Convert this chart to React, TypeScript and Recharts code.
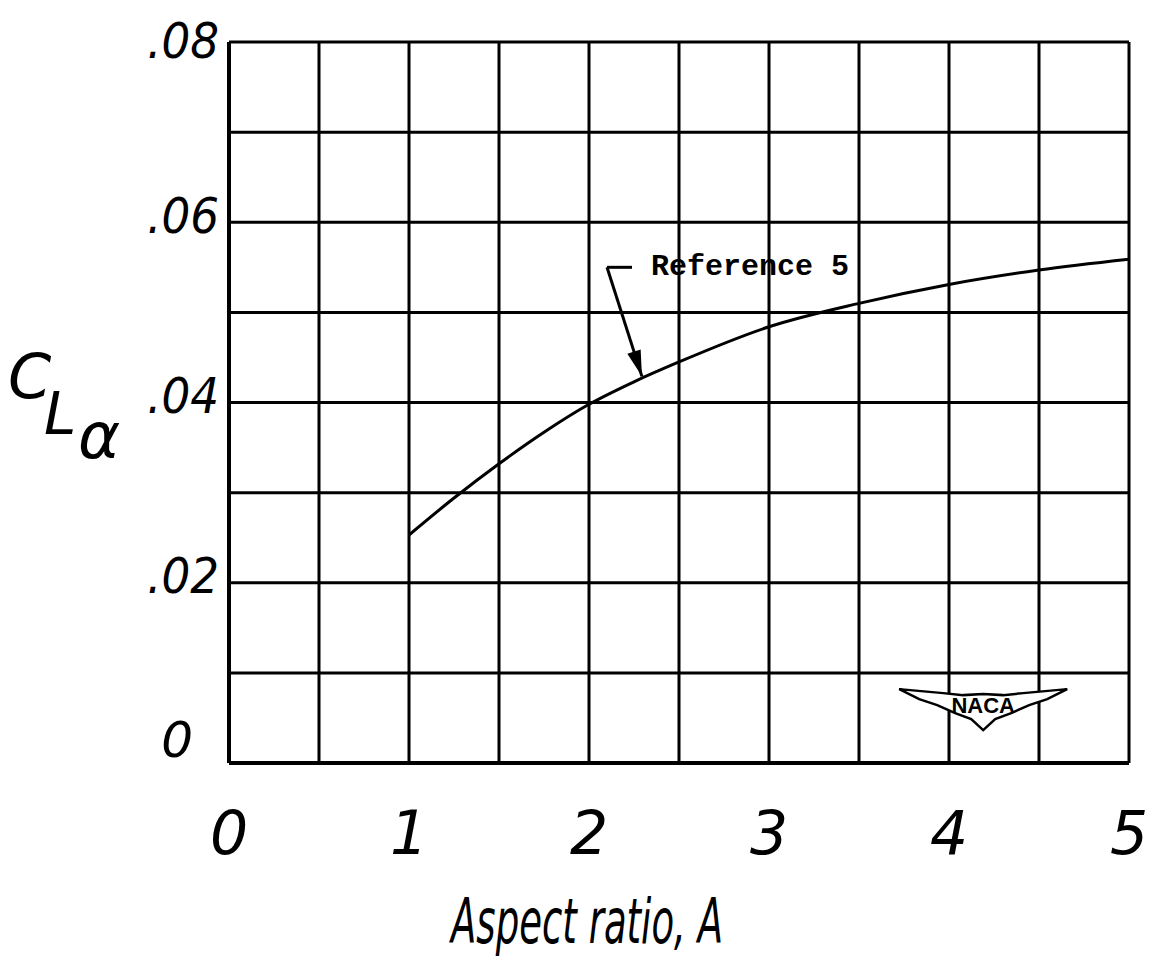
import React from 'react';
import {
  LineChart,
  Line,
  XAxis,
  YAxis,
  CartesianGrid,
  ReferenceLine,
  ReferenceDot,
} from 'recharts';

// Aspect ratio (x) and lift-curve slope per degree (y)
const aspectRatio = [1, 1.25, 1.5, 1.75, 2, 2.25, 2.5, 3, 3.5, 4, 4.5, 5];
const liftSlope = [0.0253, 0.0294, 0.0332, 0.0367, 0.0398, 0.0423, 0.0445, 0.0484, 0.051, 0.0531, 0.0547, 0.0559];

const xTicks = [0, 0.5, 1, 1.5, 2, 2.5, 3, 3.5, 4, 4.5, 5];
const yTicks = [0, 0.01, 0.02, 0.03, 0.04, 0.05, 0.06, 0.07, 0.08];
const yTickLabels = ['0', '', '.02', '', '.04', '', '.06', '', '.08'];
const xTickLabels = ['0', '', '1', '', '2', '', '3', '', '4', '', '5'];

const curveName = 'Reference 5';
const xTitle = 'Aspect ratio, A';

// leader line for the annotation (data coordinates)
const leaderStart = { x: 2.239, y: 0.055 };
const leaderCorner = { x: 2.1, y: 0.055 };
const leaderTip = { x: 2.294, y: 0.0429 };
const labelAt = { x: 2.344, y: 0.055 };
const logoAt = { x: 4.19, y: 0.0062 };

const data = aspectRatio.map((a, i) => ({ a, cla: liftSlope[i] }));

const hand = "'DejaVu Sans', sans-serif";

const YTick = (props: any) => {
  const { x, y, index } = props;
  const label = yTickLabels[index];
  if (!label) return null;
  const isZero = label.length === 1;
  const ty = index === 0 ? y - 20 : index === yTickLabels.length - 1 ? y + 2 : y - 3;
  return (
    <text x={isZero ? x - 28 : x - 2} y={ty} textAnchor="end" dominantBaseline="middle"
      fontFamily={hand} fontStyle="italic" fontSize={50} fill="#000"
      textLength={isZero ? undefined : 72} lengthAdjust="spacingAndGlyphs">
      {label}
    </text>
  );
};

const XTick = (props: any) => {
  const { x, y, index } = props;
  const label = xTickLabels[index];
  if (!label) return null;
  return (
    <text x={x} y={y + 66} textAnchor="middle" dominantBaseline="middle"
      fontFamily={hand} fontStyle="italic" fontSize={60} fill="#000">
      {label}
    </text>
  );
};

const XTitle = (props: any) => {
  const { viewBox } = props;
  const cx = viewBox.x + viewBox.width / 2 - 92;
  return (
    <text x={cx} y={viewBox.y + 180} textAnchor="middle" fontFamily={hand} fontStyle="italic"
      fontSize={62} fill="#000" textLength={272} lengthAdjust="spacingAndGlyphs">
      {xTitle}
    </text>
  );
};

// C with L and alpha stepped down, as in the hand lettering
const YTitle = () => (
  <text fontFamily={hand} fontStyle="italic" fill="#000">
    <tspan x={0} y={390} fontSize={62}>C</tspan>
    <tspan x={36} y={426} fontSize={58}>L</tspan>
    <tspan x={70} y={450} fontSize={64}>α</tspan>
  </text>
);

const ArrowLine = (props: any) => {
  const { x1, y1, x2, y2 } = props;
  const dx = x2 - x1;
  const dy = y2 - y1;
  const len = Math.sqrt(dx * dx + dy * dy);
  const ux = dx / len;
  const uy = dy / len;
  const hl = 26;
  const hw = 7;
  const bx = x2 - ux * hl;
  const by = y2 - uy * hl;
  return (
    <g>
      <line x1={x1} y1={y1} x2={x2} y2={y2} stroke="#000" strokeWidth={3} />
      <polygon
        points={`${x2},${y2} ${bx - uy * hw},${by + ux * hw} ${bx + uy * hw},${by - ux * hw}`}
        fill="#000"
      />
    </g>
  );
};

const PlainLine = (props: any) => {
  const { x1, y1, x2, y2 } = props;
  return <line x1={x1} y1={y1} x2={x2} y2={y2} stroke="#000" strokeWidth={3} />;
};

const CurveLabel = (props: any) => {
  const { cx, cy } = props;
  return (
    <text x={cx} y={cy} dominantBaseline="middle" fontFamily="'Liberation Mono', 'DejaVu Sans Mono', monospace"
      fontWeight="bold" fontSize={30} fill="#000">
      {curveName}
    </text>
  );
};

const NacaLogo = (props: any) => {
  const { cx, cy } = props;
  const pts = [
    [-84, -18], [-40, -14], [-20, -12], [0, -13], [20, -12], [40, -14], [84, -18],
    [64, -8], [46, -2], [28, 6], [12, 12], [0, 23], [-12, 12], [-28, 6], [-46, -2], [-64, -8],
  ]
    .map(([px, py]) => `${cx + px},${cy + py}`)
    .join(' ');
  return (
    <g>
      <polygon points={pts} fill="#fff" stroke="#000" strokeWidth={2.5} />
      <text x={cx} y={cy} textAnchor="middle" dominantBaseline="middle" fontFamily="'Liberation Sans', sans-serif"
        fontWeight="bold" fontSize={22} fill="#000">
        NACA
      </text>
    </g>
  );
};

export default function App() {
  return (
    <div style={{ width: 1152, height: 952, background: '#fff' }}>
      <LineChart width={1152} height={952} data={data} margin={{ top: 34, right: 31, left: 0, bottom: 0 }}>
        <CartesianGrid stroke="#000" strokeWidth={3} />
        <XAxis
          dataKey="a"
          type="number"
          domain={[0, 5]}
          ticks={xTicks}
          interval={0}
          height={197}
          tick={<XTick />}
          tickLine={false}
          axisLine={{ stroke: '#000', strokeWidth: 4 }}
          label={<XTitle />}
        />
        <YAxis
          type="number"
          domain={[0, 0.08]}
          ticks={yTicks}
          interval={0}
          width={221}
          tick={<YTick />}
          tickLine={false}
          axisLine={{ stroke: '#000', strokeWidth: 4 }}
          label={<YTitle />}
        />
        <ReferenceLine segment={[leaderStart, leaderCorner]} shape={<PlainLine />} />
        <ReferenceLine segment={[leaderCorner, leaderTip]} shape={<ArrowLine />} />
        <ReferenceDot x={labelAt.x} y={labelAt.y} r={0} shape={<CurveLabel />} />
        <ReferenceDot x={logoAt.x} y={logoAt.y} r={0} shape={<NacaLogo />} />
        <Line
          type="monotone"
          dataKey="cla"
          stroke="#000"
          strokeWidth={3}
          dot={false}
          isAnimationActive={false}
        />
      </LineChart>
    </div>
  );
}
